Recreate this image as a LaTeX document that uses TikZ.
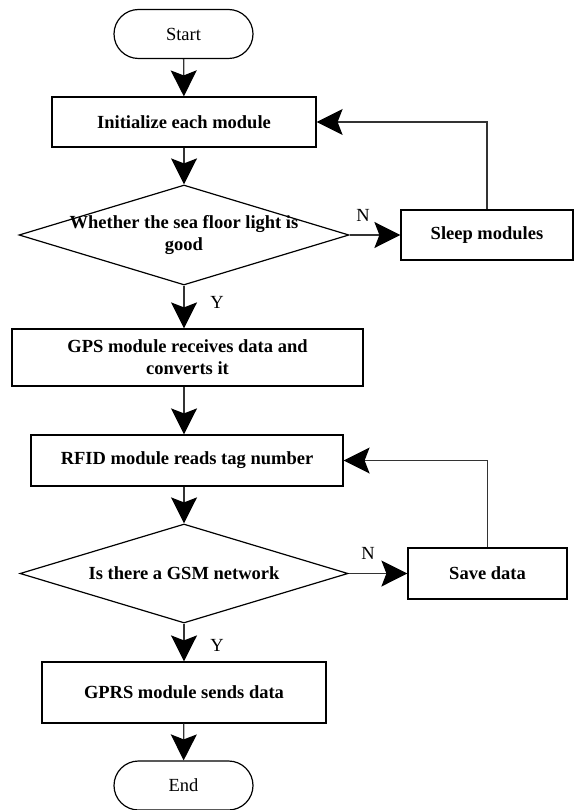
\documentclass[tikz,border=0pt]{standalone}
\usepackage{fontspec}
\setmainfont{Liberation Serif}
\usetikzlibrary{arrows.meta,shapes.geometric}

\tikzset{
  flowline/.style={line width=1.3pt, draw=black!80},
  flowarrow/.style={flowline, -{Stealth[length=26pt,width=26pt,inset=5pt,black]}},
  procbox/.style={draw, line width=1.2pt, rectangle, inner sep=0pt, align=center,
    font=\fontsize{18.5}{22}\selectfont\bfseries},
  termbox/.style={draw, line width=1.2pt, rectangle, rounded corners=24.5pt, inner sep=0pt,
    minimum width=139pt, minimum height=49pt, font=\fontsize{18.5}{22}\selectfont},
  decbox/.style={draw, line width=1.2pt, diamond, inner sep=0pt},
  dtext/.style={align=center, font=\fontsize{18.5}{22}\selectfont\bfseries},
  tag/.style={font=\fontsize{18.5}{22}\selectfont}
}

\begin{document}
\begin{tikzpicture}[x=1pt,y=-1pt]
  \useasboundingbox (0,0) rectangle (579,810);

  % terminals and process boxes
  \node[termbox] (start) at (183.5,34) {Start};
  \node[procbox, minimum width=264pt, minimum height=50pt] (init) at (184,122) {Initialize each module};
  \node[decbox, minimum width=330pt, minimum height=100pt,
        label={[dtext]center:{Whether the sea floor light is\\good}}] (light) at (184,235) {};
  \node[procbox, minimum width=172pt, minimum height=50pt] (sleep) at (487,235) {Sleep modules};
  \node[procbox, minimum width=351pt, minimum height=57pt] (gps) at (187.5,357.5) {GPS module receives data and\\converts it};
  \node[procbox, minimum width=312pt, minimum height=51pt] (rfid) at (187,460.5) {RFID module reads tag number};
  \node[decbox, minimum width=328pt, minimum height=99pt,
        label={[dtext]center:{Is there a GSM network}}] (gsm) at (184,573.5) {};
  \node[procbox, minimum width=159pt, minimum height=51pt] (save) at (487.5,573.5) {Save data};
  \node[procbox, minimum width=284pt, minimum height=61pt] (gprs) at (184,692.5) {GPRS module sends data};
  \node[termbox] (end) at (183.5,785.5) {End};

  % main flow
  \draw[flowarrow] (start) -- (init);
  \draw[flowarrow] (init) -- (light);
  \draw[flowarrow] (light.south) -- (light.south |- gps.north);
  \draw[flowarrow] (light.south |- gps.south) -- (light.south |- rfid.north);
  \draw[flowarrow] (light.south |- rfid.south) -- (gsm.north);
  \draw[flowarrow] (gsm.south) -- (gprs.north);
  \draw[flowarrow] (gprs) -- (end);

  % branches
  \draw[flowarrow] (light.east) -- (sleep.west);
  \draw[flowarrow] (sleep.north) |- (init.east);
  \draw[flowarrow] (gsm.east) -- (save.west);
  \draw[flowarrow] (save.north) |- (rfid.east);

  % branch labels
  \node[tag] (n1) at (363,215) {N};
  \node[tag] (y1) at (217,302) {Y};
  \node[tag] (n2) at (368,553) {N};
  \node[tag] (y2) at (217,645) {Y};
\end{tikzpicture}
\end{document}
